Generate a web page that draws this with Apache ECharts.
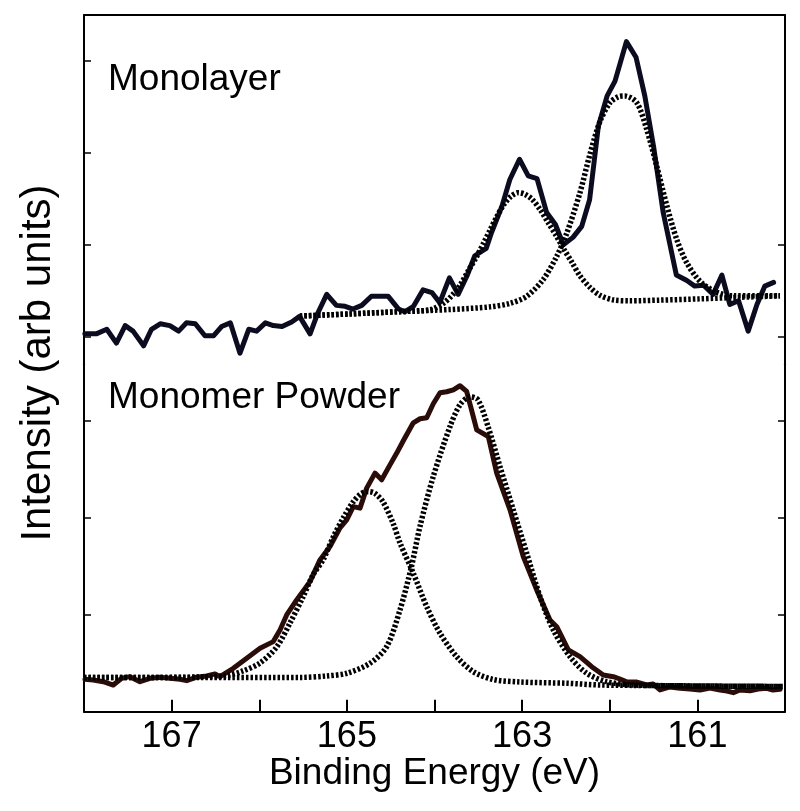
<!DOCTYPE html>
<html>
<head>
<meta charset="utf-8">
<script src="https://cdn.jsdelivr.net/npm/echarts@6/dist/echarts.min.js"></script>
<style>
html,body{margin:0;padding:0;background:#fff;}
#chart{width:800px;height:811px;}
</style>
</head>
<body>
<div id="chart"></div>
<script>
// ---- Monolayer (top panel) ----
const monoEnergy = [167.99,167.86,167.74,167.63,167.53,167.44,167.32,167.23,167.13,167.02,
  166.92,166.83,166.73,166.62,166.52,166.43,166.33,166.22,166.12,166.03,
  165.93,165.84,165.74,165.63,165.54,165.42,165.33,165.23,165.12,165.02,
  164.93,164.83,164.72,164.62,164.53,164.41,164.34,164.24,164.13,164.03,
  163.94,163.83,163.73,163.63,163.54,163.41,163.35,163.23,163.14,163.03,
  162.93,162.83,162.72,162.62,162.53,162.42,162.32,162.23,162.13,162.03,
  161.94,161.81,161.70,161.60,161.50,161.39,161.24,161.12,161.03,160.93,
  160.82,160.72,160.63,160.53,160.42,160.32,160.23,160.13];
const monoIntensity = [1.03,1.03,1.08,0.93,1.12,1.06,0.90,1.08,1.14,1.12,
  1.06,1.15,1.14,1.01,1.01,1.11,1.15,0.82,1.08,1.06,
  1.15,1.12,1.11,1.16,1.22,1.03,1.26,1.46,1.34,1.33,
  1.30,1.34,1.44,1.44,1.44,1.30,1.27,1.33,1.51,1.48,
  1.37,1.64,1.46,1.66,1.88,1.96,2.13,2.42,2.71,2.93,
  2.75,2.72,2.35,2.22,2.00,2.08,2.20,2.49,3.29,3.62,
  3.78,4.21,4.04,3.62,3.07,2.35,1.67,1.61,1.55,1.56,
  1.46,1.67,1.35,1.39,1.06,1.35,1.55,1.59];
// fit component near 163.0 eV
const monoFitAEnergy = [165.535,164.964,164.394,164.051,163.900,163.800,163.709,163.618,163.518,163.435,
  163.367,163.287,163.207,163.127,163.044,162.967,162.887,162.796,162.705,162.613,
  162.522,162.431,162.340,162.226,162.111,161.963,161.769,161.427,160.970,160.514,160.057];
const monoFitAIntensity = [1.224,1.247,1.272,1.292,1.362,1.449,1.558,1.711,1.874,2.026,
  2.157,2.309,2.440,2.527,2.567,2.548,2.494,2.385,2.244,2.102,
  1.950,1.808,1.662,1.536,1.449,1.400,1.390,1.397,1.411,1.428,1.444];
// fit component near 161.8 eV
const monoFitBEnergy = [165.535,164.964,164.394,163.823,163.367,163.138,162.948,162.758,162.605,162.491,
  162.340,162.226,162.111,161.997,161.906,161.826,161.692,161.578,161.464,161.350,
  161.236,161.122,160.970,160.779,160.590,160.285,160.057];
const monoFitBIntensity = [1.224,1.247,1.272,1.295,1.324,1.362,1.439,1.624,1.874,2.124,
  2.567,2.984,3.343,3.546,3.609,3.618,3.546,3.256,2.856,2.429,
  2.059,1.805,1.602,1.482,1.444,1.444,1.446];

// ---- Monomer Powder (bottom panel) ----
const powderEnergy = [167.989,167.894,167.780,167.666,167.570,167.475,167.361,167.247,167.133,167.019,
  166.904,166.828,166.714,166.600,166.505,166.448,166.296,166.143,165.991,165.840,
  165.763,165.687,165.573,165.421,165.307,165.193,165.078,165.002,164.927,164.850,
  164.774,164.679,164.603,164.508,164.431,164.356,164.242,164.165,164.089,164.014,
  163.937,163.861,163.785,163.709,163.633,163.518,163.386,163.290,163.138,162.987,
  162.834,162.682,162.605,162.473,162.340,162.206,162.074,161.959,161.883,161.807,
  161.700,161.578,161.506,161.427,161.312,161.198,161.084,160.970,160.856,160.742,
  160.662,160.590,160.514,160.399,160.308,160.209,160.137,160.057];
const powderIntensity = [0.334,0.327,0.309,0.275,0.344,0.361,0.309,0.344,0.355,0.344,
  0.334,0.320,0.355,0.368,0.389,0.361,0.447,0.551,0.654,0.722,
  0.842,0.997,1.152,1.340,1.564,1.701,1.894,1.976,2.113,2.097,
  2.303,2.458,2.389,2.543,2.664,2.791,2.976,3.018,3.028,3.172,
  3.286,3.296,3.316,3.358,3.299,2.904,2.835,2.458,2.079,1.598,
  1.255,0.945,0.876,0.636,0.567,0.464,0.378,0.361,0.337,0.309,
  0.306,0.275,0.286,0.224,0.255,0.241,0.234,0.224,0.244,0.224,
  0.213,0.196,0.224,0.216,0.234,0.241,0.224,0.231];
// fit component near 164.8 eV
const powderFitCEnergy = [168.000,167.247,166.676,166.371,166.185,165.991,165.801,165.649,165.501,165.387,
  165.272,165.155,165.041,164.927,164.839,164.755,164.679,164.588,164.470,164.394,
  164.242,164.089,163.937,163.747,163.557,163.329,163.024,162.491,162.111,161.541,160.970,160.023];
const powderFitCIntensity = [0.353,0.353,0.358,0.373,0.420,0.502,0.667,0.914,1.182,1.409,
  1.564,1.801,1.997,2.162,2.244,2.268,2.249,2.162,1.935,1.739,
  1.427,1.082,0.808,0.567,0.412,0.332,0.306,0.293,0.275,0.270,0.265,0.260];
// fit component near 163.6 eV
const powderFitDEnergy = [168.000,166.676,165.535,165.230,165.002,164.736,164.546,164.394,164.263,164.166,
  164.014,163.823,163.709,163.595,163.504,163.389,163.253,163.101,162.948,162.796,
  162.644,162.454,162.263,162.035,161.731,160.970,160.023];
const powderFitDIntensity = [0.353,0.353,0.353,0.368,0.396,0.499,0.670,1.048,1.495,1.907,
  2.423,2.938,3.162,3.244,3.213,2.938,2.526,2.079,1.633,1.186,
  0.842,0.567,0.396,0.309,0.275,0.265,0.260];

const xTickValues = [161,162,163,164,165,166,167];
const xLabelValues = [161,163,165,167];
const topTicksLeft = [1,2,3,4];
const topTicksRight = [1,2];
const bottomTicks = [1,2,3];

function pairs(xs, ys){ return xs.map((x,i)=>[x, ys[i]]); }

const FONT = '"Liberation Sans", Arial, Helvetica, sans-serif';
const frame = {show:true, lineStyle:{color:'#000', width:2}};
const chart = echarts.init(document.getElementById('chart'), null, {renderer:'canvas'});

function yAx(grid, pos, min, max, ticks){
  return {type:'value', gridIndex:grid, position:pos, min:min, max:max,
    axisLine:frame,
    axisTick:{show:true, inside:true, length:7, customValues:ticks, lineStyle:{color:'#000', width:1.5}},
    axisLabel:{show:false}, splitLine:{show:false}};
}

const rawLine = (color)=>({color:color, width:5, join:'round', cap:'round'});
const fitLine = {color:'#000', width:5.5, type:[2.5,2], cap:'butt'};

chart.setOption({
  animation:false,
  backgroundColor:'#fff',
  grid:[
    {left:84, right:15, top:15, height:349.2},
    {left:84, right:15, top:364.2, height:347.5}
  ],
  xAxis:[
    {type:'value', gridIndex:0, min:160, max:168, inverse:true, position:'top',
      axisLine:frame, axisTick:{show:false}, axisLabel:{show:false}, splitLine:{show:false}},
    {type:'value', gridIndex:1, min:160, max:168, interval:1, inverse:true, position:'bottom',
      axisLine:frame,
      axisTick:{show:true, inside:true, length:12, customValues:xTickValues, lineStyle:{color:'#000', width:2}},
      axisLabel:{show:true, customValues:xLabelValues, color:'#000', fontSize:36, fontFamily:FONT, margin:7},
      splitLine:{show:false},
      name:'Binding Energy (eV)', nameLocation:'middle', nameGap:42,
      nameTextStyle:{color:'#000', fontSize:37, fontFamily:FONT}}
  ],
  yAxis:[
    yAx(0,'left',0.7,4.5,topTicksLeft),
    yAx(0,'right',0.7,4.5,topTicksRight),
    yAx(1,'left',0,3.58,bottomTicks),
    yAx(1,'right',0,3.58,bottomTicks)
  ],
  series:[
    {type:'line', xAxisIndex:0, yAxisIndex:0, data:pairs(monoEnergy, monoIntensity),
      showSymbol:false, lineStyle:rawLine('#0c0c20'), z:2},
    {type:'line', xAxisIndex:0, yAxisIndex:0, data:pairs(monoFitAEnergy, monoFitAIntensity),
      showSymbol:false, smooth:0.3, lineStyle:fitLine, z:3},
    {type:'line', xAxisIndex:0, yAxisIndex:0, data:pairs(monoFitBEnergy, monoFitBIntensity),
      showSymbol:false, smooth:0.3, lineStyle:fitLine, z:3},
    {type:'line', xAxisIndex:1, yAxisIndex:2, data:pairs(powderEnergy, powderIntensity),
      showSymbol:false, lineStyle:rawLine('#2a0c08'), z:2},
    {type:'line', xAxisIndex:1, yAxisIndex:2, data:pairs(powderFitCEnergy, powderFitCIntensity),
      showSymbol:false, smooth:0.3, lineStyle:fitLine, z:3},
    {type:'line', xAxisIndex:1, yAxisIndex:2, data:pairs(powderFitDEnergy, powderFitDIntensity),
      showSymbol:false, smooth:0.3, lineStyle:fitLine, z:3}
  ],
  graphic:[
    {type:'text', x:108, y:80, style:{text:'Monolayer', fontSize:37, fontFamily:FONT, fill:'#000', verticalAlign:'middle', align:'left'}},
    {type:'text', x:108, y:398, style:{text:'Monomer Powder', fontSize:37, fontFamily:FONT, fill:'#000', verticalAlign:'middle', align:'left'}},
    {type:'text', x:38, y:363, rotation:Math.PI/2, style:{text:'Intensity (arb units)', fontSize:42, fontFamily:FONT, fill:'#000', verticalAlign:'middle', align:'center'}}
  ]
});
</script>
</body>
</html>
